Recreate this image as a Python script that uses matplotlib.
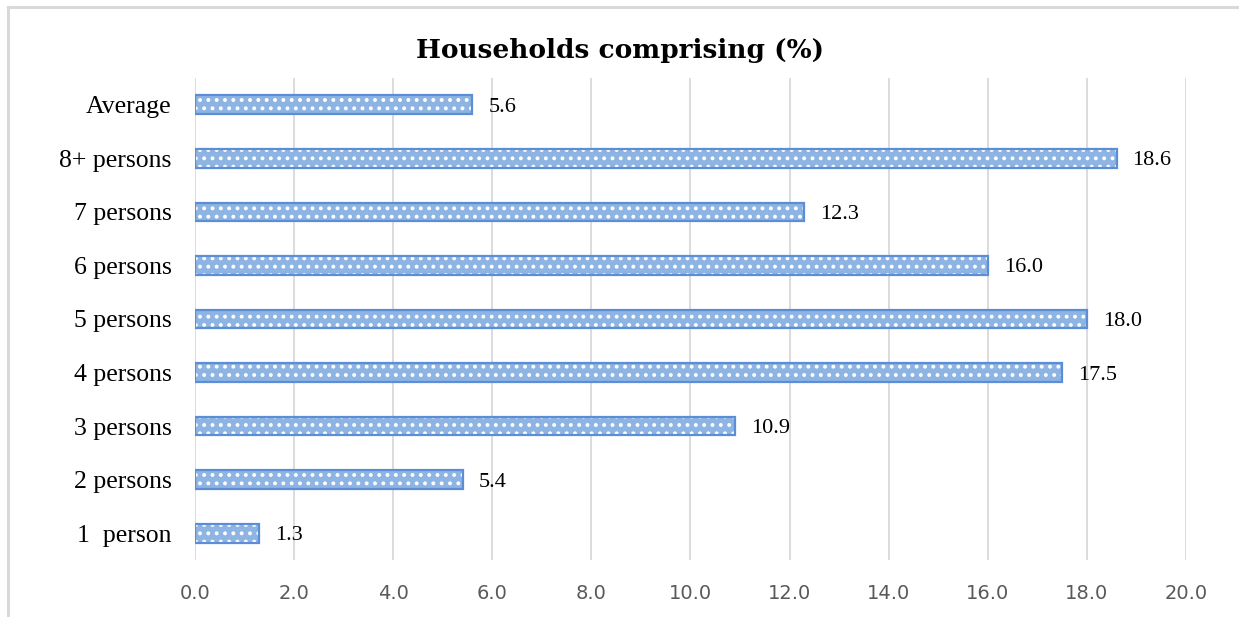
import matplotlib
matplotlib.use("Agg")
import matplotlib.pyplot as plt
from matplotlib.lines import Line2D

categories = ["1  person", "2 persons", "3 persons", "4 persons", "5 persons",
              "6 persons", "7 persons", "8+ persons", "Average"]
values = [1.3, 5.4, 10.9, 17.5, 18.0, 16.0, 12.3, 18.6, 5.6]
xticks = [0, 2, 4, 6, 8, 10, 12, 14, 16, 18, 20]

plt.rcParams["hatch.linewidth"] = 1.6

fig = plt.figure(figsize=(12.39, 6.17), dpi=100)
ax = fig.add_axes([0.1574, 0.0924, 0.7998, 0.7812])

ypos = list(range(len(categories)))
face = "#8DB4E2"
edge = "#5B8ED6"

# patterned fill: white dots over light blue
ax.barh(ypos, values, height=0.35, color=face, edgecolor="white",
        hatch="..", linewidth=0, zorder=2)
# outline drawn separately so it keeps the blue colour
ax.barh(ypos, values, height=0.35, fill=False, edgecolor=edge,
        linewidth=1.6, zorder=3)

for y, v in zip(ypos, values):
    ax.text(v + 0.32, y, f"{v:.1f}", va="center_baseline", ha="left",
            fontsize=16, family="Liberation Serif", color="#000000")

ax.set_xlim(0, 20)
ax.set_ylim(-0.5, len(categories) - 0.5)
ax.set_xticks(xticks)
ax.set_xticklabels([f"{t:.1f}" for t in xticks], fontsize=14,
                   family="DejaVu Sans", color="#595959")
ax.set_yticks(ypos)
ax.set_yticklabels(categories, fontsize=18.5, family="Liberation Serif",
                   color="#000000", va="center_baseline")
ax.tick_params(axis="both", length=0)
ax.tick_params(axis="x", pad=17)
ax.tick_params(axis="y", pad=17)
ax.grid(axis="x", color="#D9D9D9", linewidth=1.3, zorder=0)
ax.set_axisbelow(True)
for s in ax.spines.values():
    s.set_visible(False)

fig.text(0.5, 0.918, "Households comprising (%)", ha="center", va="center",
         fontsize=19, fontweight="bold", family="DejaVu Serif")

# chart-area frame on the left and top
fig.add_artist(Line2D([0.0065, 0.0065], [0.0, 0.988], transform=fig.transFigure,
                      color="#D9D9D9", linewidth=2.2))
fig.add_artist(Line2D([0.0065, 1.0], [0.988, 0.988], transform=fig.transFigure,
                      color="#D9D9D9", linewidth=2.2))

fig.savefig("out.png", dpi=100)
